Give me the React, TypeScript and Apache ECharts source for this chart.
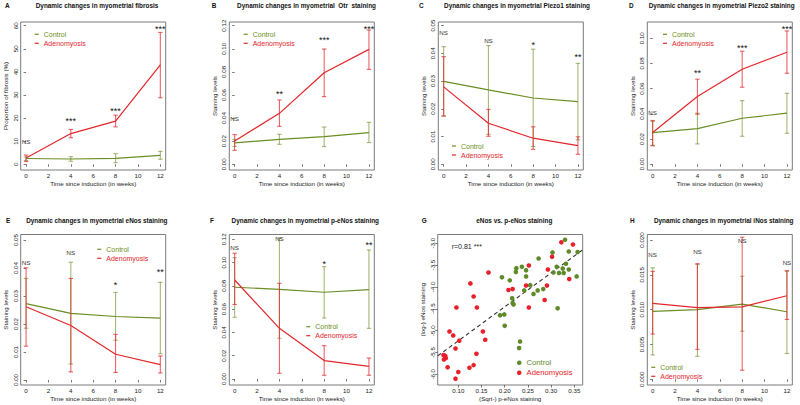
import React, { useEffect, useRef } from "react";
import * as echarts from "echarts";

// ---------- data ----------
const weeks = [0, 4, 8, 12];
const weekTicks = [0, 2, 4, 6, 8, 10, 12];

// A: fibrosis (%)
const fibrosisControl = [2.5, 2.3, 2.6, 3.9];
const fibrosisControlLow = [1.6, 1.3, 0.7, 2.2];
const fibrosisControlHigh = [3.2, 3.3, 4.6, 5.6];
const fibrosisAdeno = [2.7, 13.3, 18.7, 43.0];
const fibrosisAdenoLow = [1.2, 11.5, 16.2, 28.8];
const fibrosisAdenoHigh = [4.0, 15.1, 21.3, 57.1];
const fibrosisSig = ["NS", "***", "***", "***"];

// B: Otr
const otrControl = [0.0185, 0.0216, 0.024, 0.0274];
const otrControlLow = [0.0155, 0.0173, 0.0153, 0.0188];
const otrControlHigh = [0.0215, 0.026, 0.0323, 0.0363];
const otrAdeno = [0.0202, 0.0441, 0.0793, 0.0995];
const otrAdenoLow = [0.0121, 0.0329, 0.0586, 0.0822];
const otrAdenoHigh = [0.0257, 0.0557, 0.0998, 0.1163];
const otrSig = ["NS", "**", "***", "***"];

// C: Piezo1
const piezo1Control = [0.0299, 0.0268, 0.0239, 0.0226];
const piezo1ControlLow = [0.0174, 0.0108, 0.0064, 0.0088];
const piezo1ControlHigh = [0.0424, 0.0428, 0.0415, 0.0364];
const piezo1Adeno = [0.0279, 0.0148, 0.0094, 0.0067];
const piezo1AdenoLow = [0.0174, 0.0101, 0.0054, 0.0036];
const piezo1AdenoHigh = [0.0388, 0.0198, 0.0135, 0.0099];
const piezo1Sig = ["NS", "NS", "*", "**"];

// D: Piezo2
const piezo2Control = [0.0251, 0.0283, 0.0365, 0.0405];
const piezo2ControlLow = [0.015, 0.0161, 0.0222, 0.0246];
const piezo2ControlHigh = [0.034, 0.0405, 0.0505, 0.0563];
const piezo2Adeno = [0.0251, 0.0537, 0.0754, 0.0889];
const piezo2AdenoLow = [0.0146, 0.0397, 0.0611, 0.0722];
const piezo2AdenoHigh = [0.0347, 0.0675, 0.0897, 0.1058];
const piezo2Sig = ["NS", "**", "***", "***"];

// E: eNos
const enosControl = [0.0273, 0.0238, 0.0227, 0.0221];
const enosControlLow = [0.0185, 0.0057, 0.0142, 0.0094];
const enosControlHigh = [0.0363, 0.0421, 0.0313, 0.0349];
const enosAdeno = [0.0262, 0.0195, 0.0092, 0.0055];
const enosAdenoLow = [0.0121, 0.0029, 0.0027, 0.0025];
const enosAdenoHigh = [0.0401, 0.0363, 0.0163, 0.0086];
const enosSig = ["NS", "NS", "*", "**"];

// F: p-eNos
const penosControl = [0.0788, 0.077, 0.0745, 0.0768];
const penosControlLow = [0.053, 0.035, 0.0524, 0.0435];
const penosControlHigh = [0.1042, 0.1209, 0.0965, 0.1108];
const penosAdeno = [0.085, 0.0435, 0.0158, 0.0109];
const penosAdenoLow = [0.064, 0.0049, 0.0032, 0.0032];
const penosAdenoHigh = [0.108, 0.0822, 0.0286, 0.018];
const penosSig = ["NS", "NS", "*", "**"];

// H: iNos
const inosControl = [0.00976, 0.01, 0.0108, 0.0097];
const inosControlLow = [0.0035, 0.0033, 0.0069, 0.0037];
const inosControlHigh = [0.016, 0.0165, 0.0148, 0.0155];
const inosAdeno = [0.0109, 0.0103, 0.0104, 0.012];
const inosAdenoLow = [0.0065, 0.0043, 0.0013, 0.0086];
const inosAdenoHigh = [0.0155, 0.0166, 0.0204, 0.0156];
const inosSig = ["NS", "NS", "NS", "NS"];

// G: (sqrt) p-eNos vs (log) eNos
const scatterControl: [number, number][] = [
  [0.33, -2.92], [0.303, -3.21], [0.338, -3.19], [0.357, -3.2], [0.273, -3.35],
  [0.332, -3.47], [0.312, -3.54], [0.325, -3.58], [0.338, -3.6], [0.317, -3.68],
  [0.327, -3.68], [0.305, -3.67], [0.355, -3.76], [0.237, -3.54], [0.225, -3.57],
  [0.224, -3.66], [0.246, -3.62], [0.246, -3.76], [0.194, -3.78], [0.211, -3.85],
  [0.255, -3.96], [0.242, -4.08], [0.271, -4.08], [0.283, -4.05], [0.262, -4.16],
  [0.216, -4.26], [0.217, -4.37], [0.219, -4.4], [0.314, -4.49], [0.19, -4.65],
  [0.199, -4.63], [0.2, -4.89], [0.233, -5.25], [0.231, -5.4],
];
const scatterAdeno: [number, number][] = [
  [0.322, -2.98], [0.347, -3.03], [0.302, -3.31], [0.252, -3.51], [0.293, -3.6],
  [0.339, -3.82], [0.165, -3.67], [0.126, -3.92], [0.208, -4.07], [0.217, -4.05],
  [0.246, -3.97], [0.133, -4.22], [0.252, -4.47], [0.14, -4.47], [0.096, -4.47],
  [0.286, -4.3], [0.291, -3.97], [0.153, -5.02], [0.158, -5.21], [0.081, -5.02],
  [0.089, -5.11], [0.102, -5.23], [0.094, -5.41], [0.139, -5.53], [0.068, -5.56],
  [0.072, -5.58], [0.073, -5.63], [0.069, -5.66], [0.077, -5.84], [0.1, -5.95],
  [0.124, -5.85], [0.133, -5.79], [0.094, -6.1],
];
// fitted regression line: eNos = intercept + slope * p-eNos
const fitIntercept = -6.01;
const fitSlope = 7.77;
const correlationText = "r=0.81 ***";

// ---------- styling / layout ----------
const FONT = "'Liberation Sans', Arial, Helvetica, sans-serif";
const GREEN = "#6b8e23";
const RED = "#e3262b";
const GREEN_BAR = "rgba(107,142,35,0.62)";
const RED_BAR = "rgba(227,38,43,0.72)";
const DOT_GREEN = "#5f8a2a";
const DOT_RED = "#e8202a";
const TEXT = "#222";
const ROWS = [
  { top: 22, height: 148, titleY: 5.5 },
  { top: 234.5, height: 150.5, titleY: 220 },
];
const PANEL_W = 145;

type TimePanel = {
  letter: string;
  title: string;
  titleX: number;
  letterX: number;
  row: number;
  left: number;
  yMin: number;
  yMax: number;
  yTicks: number[];
  digits: number;
  yName: string;
  control: number[];
  controlLow: number[];
  controlHigh: number[];
  adeno: number[];
  adenoLow: number[];
  adenoHigh: number[];
  sig: string[];
  sigY: number[];
  legend: [number, number];
};

const timePanels: TimePanel[] = [
  {
    letter: "A", title: "Dynamic changes in myometrial fibrosis", titleX: 97, letterX: 5, row: 0, left: 20.7,
    yMin: -2.47, yMax: 61.6, yTicks: [0, 10, 20, 30, 40, 50, 60], digits: 0, yName: "Proportion of fibrosis (%)",
    control: fibrosisControl, controlLow: fibrosisControlLow, controlHigh: fibrosisControlHigh,
    adeno: fibrosisAdeno, adenoLow: fibrosisAdenoLow, adenoHigh: fibrosisAdenoHigh,
    sig: fibrosisSig, sigY: [9.8, 19.3, 23.8, 59.3], legend: [34.7, 30.8],
  },
  {
    letter: "B", title: "Dynamic changes in myometrial  Otr  staining", titleX: 306.5, letterX: 211.7, row: 0, left: 229.3,
    yMin: -0.00494, yMax: 0.1232, yTicks: [0, 0.02, 0.04, 0.06, 0.08, 0.1, 0.12], digits: 2, yName: "Staining levels",
    control: otrControl, controlLow: otrControlLow, controlHigh: otrControlHigh,
    adeno: otrAdeno, adenoLow: otrAdenoLow, adenoHigh: otrAdenoHigh,
    sig: otrSig, sigY: [0.0398, 0.0616, 0.1083, 0.1184], legend: [243.7, 30.8],
  },
  {
    letter: "C", title: "Dynamic changes in myometrial Piezo1 staining", titleX: 517, letterX: 419, row: 0, left: 438.3,
    yMin: -0.00206, yMax: 0.0513, yTicks: [0, 0.01, 0.02, 0.03, 0.04, 0.05], digits: 2, yName: "Staining levels",
    control: piezo1Control, controlLow: piezo1ControlLow, controlHigh: piezo1ControlHigh,
    adeno: piezo1Adeno, adenoLow: piezo1AdenoLow, adenoHigh: piezo1AdenoHigh,
    sig: piezo1Sig, sigY: [0.0476, 0.0446, 0.0433, 0.0392], legend: [452, 142.5],
  },
  {
    letter: "D", title: "Dynamic changes in myometrial Piezo2 staining", titleX: 721.7, letterX: 629, row: 0, left: 647.3,
    yMin: -0.0046, yMax: 0.1129, yTicks: [0, 0.02, 0.04, 0.06, 0.08, 0.1], digits: 2, yName: "Staining levels",
    control: piezo2Control, controlLow: piezo2ControlLow, controlHigh: piezo2ControlHigh,
    adeno: piezo2Adeno, adenoLow: piezo2AdenoLow, adenoHigh: piezo2AdenoHigh,
    sig: piezo2Sig, sigY: [0.041, 0.0731, 0.0935, 0.1081], legend: [663, 30.8],
  },
  {
    letter: "E", title: "Dynamic changes in myometrial eNos staining", titleX: 96.8, letterX: 6, row: 1, left: 20.7,
    yMin: -0.00179, yMax: 0.052, yTicks: [0, 0.01, 0.02, 0.03, 0.04, 0.05], digits: 2, yName: "Staining levels",
    control: enosControl, controlLow: enosControlLow, controlHigh: enosControlHigh,
    adeno: enosAdeno, adenoLow: enosAdenoLow, adenoHigh: enosAdenoHigh,
    sig: enosSig, sigY: [0.0419, 0.0456, 0.0344, 0.0391], legend: [97.3, 245.8],
  },
  {
    letter: "F", title: "Dynamic changes in myometrial p-eNos staining", titleX: 305.3, letterX: 210, row: 1, left: 229.3,
    yMin: -0.00515, yMax: 0.1241, yTicks: [0, 0.02, 0.04, 0.06, 0.08, 0.1, 0.12], digits: 2, yName: "Staining levels",
    control: penosControl, controlLow: penosControlLow, controlHigh: penosControlHigh,
    adeno: penosAdeno, adenoLow: penosAdenoLow, adenoHigh: penosAdenoHigh,
    sig: penosSig, sigY: [0.1128, 0.1203, 0.0995, 0.1158], legend: [306.3, 323.2],
  },
  {
    letter: "H", title: "Dynamic changes in myometrial iNos staining", titleX: 723.7, letterX: 630, row: 1, left: 647.3,
    yMin: -0.00082, yMax: 0.02079, yTicks: [0, 0.005, 0.01, 0.015, 0.02], digits: 3, yName: "Staining levels",
    control: inosControl, controlLow: inosControlLow, controlHigh: inosControlHigh,
    adeno: inosAdeno, adenoLow: inosAdenoLow, adenoHigh: inosAdenoHigh,
    sig: inosSig, sigY: [0.0179, 0.0183, 0.02, 0.0168], legend: [651.3, 363.8],
  },
];

const scatterPanel = {
  letter: "G", title: "eNos vs. p-eNos staining", titleX: 514.3, letterX: 421.7, row: 1, left: 437.7,
  xMin: 0.0556, xMax: 0.368, xTicks: [0.1, 0.15, 0.2, 0.25, 0.3, 0.35],
  yMin: -6.245, yMax: -2.8, yTicks: [-6, -5.5, -5, -4.5, -4, -3.5, -3],
  xName: "(Sqrt-) p-eNos staining", yName: "(log-) eNos staining",
  legend: [517, 358.8] as [number, number], corr: [451.7, 246.7] as [number, number],
};

function valueAxis(gridIndex: number, min: number, max: number, ticks: number[], digits: number, name: string, isX: boolean) {
  return {
    type: "value",
    gridIndex,
    min,
    max,
    name,
    nameLocation: "middle",
    nameGap: isX ? 10.8 : 12.3,
    nameTextStyle: { fontSize: 6.2, color: TEXT, fontFamily: FONT },
    axisLine: { show: false },
    axisTick: { show: true, length: 2.5, customValues: ticks, lineStyle: { color: "#555", width: 0.8 } },
    axisLabel: {
      show: true,
      customValues: ticks,
      fontSize: 6.2,
      color: TEXT,
      fontFamily: FONT,
      margin: 2.6,
      rotate: isX ? 0 : 90,
      formatter: (v: number) => v.toFixed(digits),
    },
    splitLine: { show: false },
  };
}

function errorBars(color: string) {
  return (params: any, api: any) => {
    const x = api.value(0);
    const p1 = api.coord([x, api.value(1)]);
    const p2 = api.coord([x, api.value(2)]);
    const cap = 2.2;
    const style = { stroke: color, lineWidth: 1.1, fill: null };
    return {
      type: "group",
      children: [
        { type: "line", shape: { x1: p1[0], y1: p1[1], x2: p2[0], y2: p2[1] }, style },
        { type: "line", shape: { x1: p1[0] - cap, y1: p1[1], x2: p1[0] + cap, y2: p1[1] }, style },
        { type: "line", shape: { x1: p2[0] - cap, y1: p2[1], x2: p2[0] + cap, y2: p2[1] }, style },
      ],
    };
  };
}

function sigLabels(labels: string[]) {
  return (params: any, api: any) => {
    const p = api.coord([api.value(0), api.value(1)]);
    const label = labels[params.dataIndex];
    const isStar = label.indexOf("*") >= 0;
    return {
      type: "text",
      x: p[0],
      y: isStar ? p[1] + 1.2 : p[1],
      style: {
        text: label,
        fill: isStar ? "#111" : "#333",
        font: isStar ? `9px ${FONT}` : `6.2px ${FONT}`,
        align: "center",
        verticalAlign: "middle",
        textAlign: "center",
        textVerticalAlign: "middle",
      },
    };
  };
}

function legendFor(left: number, top: number, icon: string, size: number, fontSize: number, green: string, red: string, gap: number) {
  return {
    left,
    top,
    orient: "vertical",
    padding: 0,
    itemGap: gap,
    itemWidth: icon === "circle" ? size : 4,
    itemHeight: icon === "circle" ? size : 1.2,
    icon,
    selectedMode: false,
    textStyle: { fontSize, fontFamily: FONT },
    data: [
      { name: "Control", icon, itemStyle: { color: green }, textStyle: { color: green, fontSize, fontFamily: FONT } },
      { name: "Adenomyosis", icon, itemStyle: { color: red }, textStyle: { color: red, fontSize, fontFamily: FONT } },
    ],
  };
}

function titleText(x: number, y: number, text: string, align: string) {
  return {
    type: "text",
    x,
    y,
    silent: true,
    style: {
      text,
      fill: "#111",
      font: `bold 6.4px ${FONT}`,
      align,
      verticalAlign: "middle",
      textAlign: align,
      textVerticalAlign: "middle",
    },
  };
}

function buildOption() {
  const grid: any[] = [];
  const xAxis: any[] = [];
  const yAxis: any[] = [];
  const series: any[] = [];
  const legend: any[] = [];
  const graphic: any[] = [];

  timePanels.forEach((p, i) => {
    const row = ROWS[p.row];
    grid.push({
      left: p.left, top: row.top, width: PANEL_W, height: row.height,
      show: true, borderColor: "#7a7a7a", borderWidth: 1, backgroundColor: "transparent",
    });
    xAxis.push(valueAxis(i, -0.48, 12.48, weekTicks, 0, "Time since induction (in weeks)", true));
    yAxis.push(valueAxis(i, p.yMin, p.yMax, p.yTicks, p.digits, p.yName, false));

    const common = { xAxisIndex: i, yAxisIndex: i, silent: true };
    series.push({
      ...common, type: "line", name: "Control", symbol: "none", z: 2,
      data: weeks.map((w, k) => [w, p.control[k]]),
      lineStyle: { color: GREEN, width: 1.2 }, itemStyle: { color: GREEN },
    });
    series.push({
      ...common, type: "line", name: "Adenomyosis", symbol: "none", z: 2,
      data: weeks.map((w, k) => [w, p.adeno[k]]),
      lineStyle: { color: RED, width: 1.2 }, itemStyle: { color: RED },
    });
    series.push({
      ...common, type: "custom", name: "Control", z: 3,
      renderItem: errorBars(GREEN_BAR), encode: { x: 0, y: [1, 2] },
      data: weeks.map((w, k) => [w, p.controlLow[k], p.controlHigh[k]]),
      itemStyle: { color: GREEN },
    });
    series.push({
      ...common, type: "custom", name: "Adenomyosis", z: 3,
      renderItem: errorBars(RED_BAR), encode: { x: 0, y: [1, 2] },
      data: weeks.map((w, k) => [w, p.adenoLow[k], p.adenoHigh[k]]),
      itemStyle: { color: RED },
    });
    series.push({
      ...common, type: "custom", name: "significance", z: 4,
      renderItem: sigLabels(p.sig), encode: { x: 0, y: 1 },
      data: weeks.map((w, k) => [w, p.sigY[k]]),
    });

    legend.push(legendFor(p.legend[0], p.legend[1], "rect", 4, 7, GREEN, RED, 2));
    graphic.push(titleText(p.letterX, row.titleY, p.letter, "left"));
    graphic.push(titleText(p.titleX, row.titleY, p.title, "center"));
  });

  // scatter panel
  const g = scatterPanel;
  const gi = grid.length;
  const row = ROWS[g.row];
  grid.push({
    left: g.left, top: row.top, width: PANEL_W, height: row.height,
    show: true, borderColor: "#7a7a7a", borderWidth: 1, backgroundColor: "transparent",
  });
  xAxis.push(valueAxis(gi, g.xMin, g.xMax, g.xTicks, 2, g.xName, true));
  yAxis.push(valueAxis(gi, g.yMin, g.yMax, g.yTicks, 1, g.yName, false));
  series.push({
    type: "line", name: "fit", xAxisIndex: gi, yAxisIndex: gi, silent: true, symbol: "none", z: 1,
    data: [g.xMin, g.xMax].map((x) => [x, fitIntercept + fitSlope * x]),
    lineStyle: { color: "#333", width: 1.1, type: [4, 3] },
  });
  series.push({
    type: "scatter", name: "Control", xAxisIndex: gi, yAxisIndex: gi, silent: true, z: 3,
    symbol: "circle", symbolSize: 4.6, data: scatterControl, itemStyle: { color: DOT_GREEN, opacity: 1 },
  });
  series.push({
    type: "scatter", name: "Adenomyosis", xAxisIndex: gi, yAxisIndex: gi, silent: true, z: 3,
    symbol: "circle", symbolSize: 4.6, data: scatterAdeno, itemStyle: { color: DOT_RED, opacity: 1 },
  });
  legend.push(legendFor(g.legend[0], g.legend[1], "circle", 4.5, 7.7, DOT_GREEN, DOT_RED, 2));
  graphic.push(titleText(g.letterX, row.titleY, g.letter, "left"));
  graphic.push(titleText(g.titleX, row.titleY, g.title, "center"));
  graphic.push({
    type: "text", x: g.corr[0], y: g.corr[1], silent: true,
    style: {
      text: correlationText, fill: "#222", font: `7px ${FONT}`,
      align: "left", verticalAlign: "middle", textAlign: "left", textVerticalAlign: "middle",
    },
  });

  return {
    animation: false,
    backgroundColor: "#ffffff",
    textStyle: { fontFamily: FONT },
    grid,
    xAxis,
    yAxis,
    legend,
    series,
    graphic: { elements: graphic },
  };
}

export default function App() {
  const ref = useRef<HTMLDivElement>(null);
  useEffect(() => {
    if (!ref.current) return;
    const chart = echarts.init(ref.current, undefined, { renderer: "svg" });
    chart.setOption(buildOption() as any);
    return () => chart.dispose();
  }, []);
  return (
    <div
      ref={ref}
      style={{ position: "absolute", left: 0, top: 0, width: 800, height: 405, background: "#fff" }}
    />
  );
}
